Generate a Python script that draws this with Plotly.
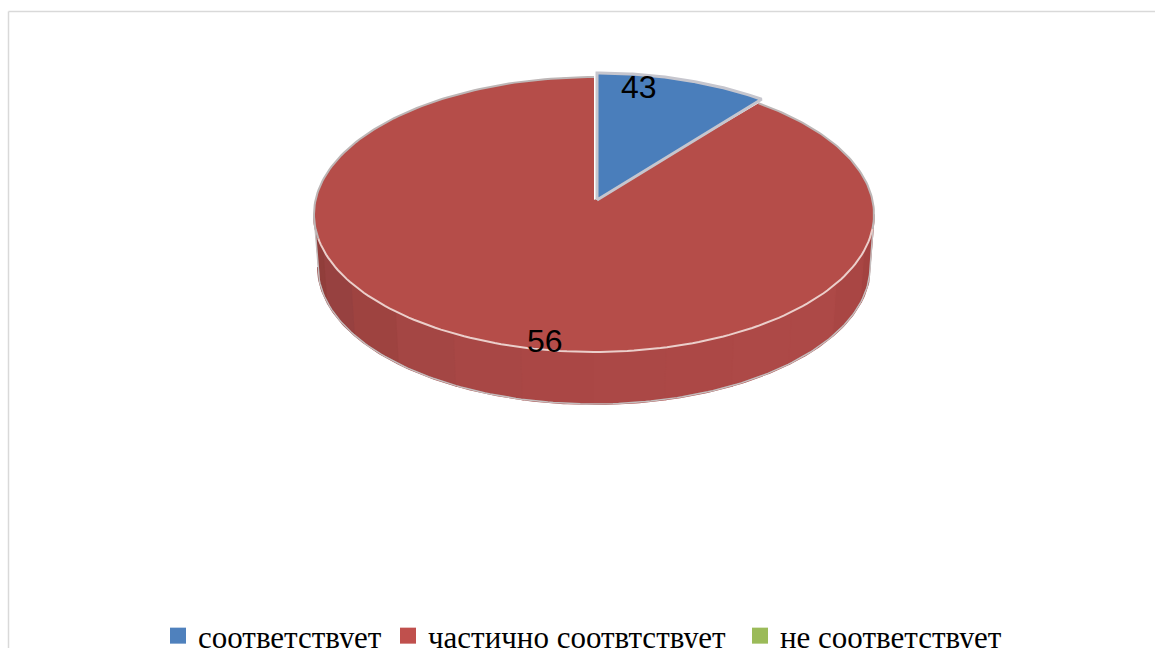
import numpy as np
import plotly.graph_objects as go

# ---- data ----
categories = ["соответствует", "частично соотвтствует", "не соответствует"]
slice_shares = [10, 90, 0]          # slice sizes as drawn
printed_labels = ["43", "56", ""]   # numbers printed on the slices
colors_top = ["#4A7EBB", "#B54D49", "#9BBB59"]
colors_legend = ["#4F81BD", "#C0504D", "#9BBB59"]
wall_shades = ["#913E3B", "#974140", "#9E4340", "#A44644", "#A84745", "#AA4745",
               "#AB4846", "#AC4846", "#AD4947", "#AD4947", "#A94644", "#A34240"]

# ---- geometry of the drawing (pixels of the 1155x648 page) ----
CX, CY, RX, RY = 594, 214.5, 280, 137.5
BOT_CY, BOT_RX, BOT_RY = 267, 276, 137
APEX_Y = 200
EXPLODE = (3, -4)
LABEL_XY = [(639, 87), (545, 341)]
LEGEND_X = [198, 428, 780]
LEGEND_TOP = 609


def arc(t0, t1, cy=CY, rx=RX, ry=RY, n=90):
    t = np.radians(np.linspace(t0, t1, n))
    return CX + rx * np.sin(t), cy - ry * np.cos(t)


fig = go.Figure()

# side wall, front half of the disc, drawn as shaded bands
edges = np.linspace(270, 90, len(wall_shades) + 1)
for a, b, c in zip(edges[:-1], edges[1:], wall_shades):
    xt, yt = arc(a, b, n=20)
    xb, yb = arc(b, a, cy=BOT_CY, rx=BOT_RX, ry=BOT_RY, n=20)
    fig.add_trace(go.Scatter(x=np.r_[xt, xb], y=np.r_[yt, yb], mode="lines", fill="toself",
                             fillcolor=c, line=dict(color=c, width=2),
                             showlegend=False, hoverinfo="skip"))
# outer outline of the wall
xb, yb = arc(270, 90, cy=BOT_CY, rx=BOT_RX, ry=BOT_RY, n=160)
fig.add_trace(go.Scatter(x=np.r_[CX - RX, xb, CX + RX], y=np.r_[CY, yb, CY], mode="lines",
                         line=dict(color="#C4BEBE", width=1.5),
                         showlegend=False, hoverinfo="skip"))

# top faces, angles from the shares
total = sum(slice_shares)
start = 0
wedges = []
for share in slice_shares:
    wedges.append((start, start + 360 * share / total))
    start += 360 * share / total

# red slice
t0, t1 = wedges[1]
xa, ya = arc(t0, t1, n=300)
fig.add_trace(go.Scatter(x=np.r_[CX, xa, CX], y=np.r_[APEX_Y, ya, APEX_Y], mode="lines",
                         fill="toself", fillcolor=colors_top[1], line=dict(width=0, color=colors_top[1]),
                         showlegend=False, hoverinfo="skip"))
# rim of the red slice: grey at the back, light at the front
xr, yr = arc(t1 - 100, t1, n=80)
fig.add_trace(go.Scatter(x=xr, y=yr, mode="lines", line=dict(color="#BDB6B6", width=2),
                         showlegend=False, hoverinfo="skip"))
xr, yr = arc(t0, t0 + 60, n=60)
fig.add_trace(go.Scatter(x=xr, y=yr, mode="lines", line=dict(color="#BDB6B6", width=2),
                         showlegend=False, hoverinfo="skip"))
xr, yr = arc(t0 + 60, t1 - 100, n=120)
fig.add_trace(go.Scatter(x=xr, y=yr, mode="lines", line=dict(color="#EBCFCB", width=2),
                         showlegend=False, hoverinfo="skip"))

# blue slice, pulled out a little
t0, t1 = wedges[0]
xa, ya = arc(t0, t1, n=60)
fig.add_trace(go.Scatter(x=np.r_[CX + EXPLODE[0], xa + EXPLODE[0], CX + EXPLODE[0]],
                         y=np.r_[APEX_Y, ya + EXPLODE[1], APEX_Y],
                         mode="lines", fill="toself", fillcolor=colors_top[0],
                         line=dict(color="#C6C6CE", width=3),
                         showlegend=False, hoverinfo="skip"))

# legend entries, one legend per entry so each can sit where the original puts it
for i, (cat, col) in enumerate(zip(categories, colors_legend)):
    lg = "legend" if i == 0 else f"legend{i + 1}"
    fig.add_trace(go.Scatter(x=[None], y=[None], mode="markers", name=cat, legend=lg,
                             marker=dict(symbol="square", size=17, color=col)))

for txt, (lx, ly) in zip(printed_labels, LABEL_XY):
    fig.add_annotation(x=lx, y=ly, text=txt, showarrow=False,
                       font=dict(family="Liberation Sans", size=32, color="#000000"))

legend_style = dict(orientation="h", yanchor="top", y=1 - LEGEND_TOP / 648, xanchor="left",
                    bgcolor="rgba(0,0,0,0)", borderwidth=0,
                    font=dict(family="Liberation Serif", size=31, color="#000000"))
axis = dict(visible=False, fixedrange=True)
fig.update_layout(
    width=1155, height=648,
    margin=dict(l=0, r=0, t=0, b=0, pad=0, autoexpand=False),
    paper_bgcolor="#FFFFFF", plot_bgcolor="#FFFFFF",
    xaxis=dict(range=[0, 1155], **axis),
    yaxis=dict(range=[648, 0], **axis),
    legend=dict(x=(LEGEND_X[0] - 40) / 1155, **legend_style),
    legend2=dict(x=(LEGEND_X[1] - 40) / 1155, **legend_style),
    legend3=dict(x=(LEGEND_X[2] - 40) / 1155, **legend_style),
    shapes=[
        dict(type="line", xref="x", yref="y", x0=8.5, x1=8.5, y0=11.5, y1=648,
             line=dict(color="#D9D9D9", width=1.5)),
        dict(type="line", xref="x", yref="y", x0=8.5, x1=1155, y0=11.5, y1=11.5,
             line=dict(color="#D9D9D9", width=1.5)),
    ],
)
fig.write_html("out.html", config={"displayModeBar": False},
               post_script="document.body.style.margin='0';")
